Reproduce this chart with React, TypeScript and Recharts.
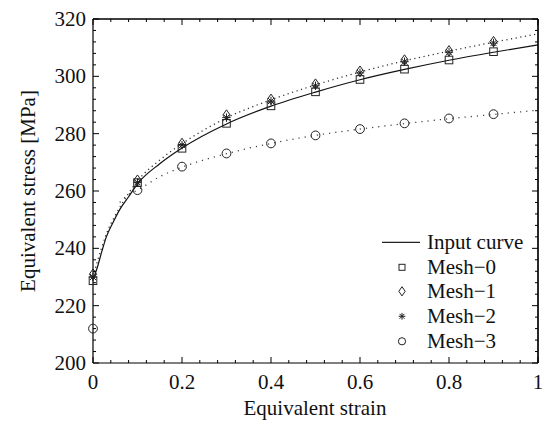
import React from "react";
import {
  ComposedChart,
  Line,
  Scatter,
  XAxis,
  YAxis,
  Legend,
  ReferenceLine,
} from "recharts";

// measured strain points (markers)
const markerStrain = [0, 0.1, 0.2, 0.3, 0.4, 0.5, 0.6, 0.7, 0.8, 0.9];
const mesh0 = [228.7, 262.9, 274.9, 283.6, 289.7, 294.6, 298.9, 302.5, 305.7, 308.6];
const mesh1 = [231.0, 263.8, 276.6, 286.5, 292.0, 297.3, 301.8, 305.7, 308.9, 312.1];
const mesh2 = [230.0, 263.0, 276.0, 285.6, 291.4, 296.7, 301.2, 305.1, 308.4, 311.6];
const mesh3 = [212.0, 260.3, 268.5, 273.1, 276.6, 279.4, 281.6, 283.6, 285.3, 286.8];

// input hardening curve
const inputStrain = [0, 0.01, 0.02, 0.03, 0.045, 0.06, 0.08, 0.1, 0.15, 0.2, 0.3, 0.4, 0.5, 0.6, 0.7, 0.8, 0.9, 1.0];
const inputStress = [229, 233.5, 239, 244, 249, 253.5, 258, 262.5, 269.5, 275, 283.4, 289.6, 294.5, 298.8, 302.4, 305.6, 308.4, 311];

// dotted fits
const fitStrain = [0, 0.01, 0.02, 0.03, 0.05, 0.075, 0.1, 0.15, 0.2, 0.3, 0.4, 0.5, 0.6, 0.7, 0.8, 0.9, 1.0];
const mesh1Fit = [230, 235.5, 240.5, 245, 251.5, 258, 263.5, 270.8, 276.5, 285.5, 291.8, 297, 301.5, 305.4, 308.8, 311.9, 314.8];
const mesh3FitStrain = [0.06, 0.08, 0.1, 0.15, 0.2, 0.3, 0.4, 0.5, 0.6, 0.7, 0.8, 0.9, 1.0];
const mesh3Fit = [256, 258.8, 260.3, 265, 268.3, 273, 276.6, 279.4, 281.6, 283.5, 285.2, 286.7, 288.2];

const xMajor = [0, 0.2, 0.4, 0.6, 0.8, 1];
const yMajor = [200, 220, 240, 260, 280, 300, 320];
const xTicks = Array.from({ length: 26 }, (_, i) => Math.round(i * 4) / 100);
const yTicks = Array.from({ length: 31 }, (_, i) => 200 + i * 4);

const FS = 21;

// plot box (chart margins + axis sizes)
const W = 542;
const H = 423;
const BOX = { left: 93, top: 19, right: W - 4, bottom: H - 60 };

const pts = (xs: number[], ys: number[]) => xs.map((x, i) => ({ x, y: ys[i] }));

const isMajorX = (v: number) => xMajor.some((m) => Math.abs(m - v) < 1e-6);
const isMajorY = (v: number) => yMajor.includes(v);
const fmtX = (v: number) => (v === 0 || v === 1 ? String(v) : v.toFixed(1));

const XTick = (props: any) => {
  const { x, y, payload } = props;
  const major = isMajorX(payload.value);
  const len = major ? 6 : 3;
  return (
    <g>
      <line x1={x} x2={x} y1={y} y2={y - len} stroke="#000" strokeWidth={1} />
      {major && (
        <text x={x} y={y + 19} textAnchor="middle" dominantBaseline="central" fontSize={FS} fill="#111">
          {fmtX(payload.value)}
        </text>
      )}
    </g>
  );
};

const YTick = (props: any) => {
  const { x, y, payload } = props;
  const major = isMajorY(payload.value);
  const len = major ? 6 : 3;
  return (
    <g>
      <line x1={x} x2={x + len} y1={y} y2={y} stroke="#000" strokeWidth={1} />
      {major && (
        <text x={x - 7} y={y} textAnchor="end" dominantBaseline="central" fontSize={FS} fill="#111">
          {payload.value}
        </text>
      )}
    </g>
  );
};

// top/right edge of the box with inward ticks
const FrameOverlay = () => {
  const sx = (v: number) => BOX.left + v * (BOX.right - BOX.left);
  const sy = (v: number) => BOX.bottom - ((v - 200) / 120) * (BOX.bottom - BOX.top);
  return (
    <svg width={W} height={H} style={{ position: "absolute", left: 0, top: 0, pointerEvents: "none" }}>
      <line x1={BOX.left} x2={BOX.right} y1={BOX.top} y2={BOX.top} stroke="#000" strokeWidth={1.2} />
      <line x1={BOX.right} x2={BOX.right} y1={BOX.top} y2={BOX.bottom} stroke="#000" strokeWidth={1.2} />
      {xTicks.map((t) => (
        <line key={`t${t}`} x1={sx(t)} x2={sx(t)} y1={BOX.top} y2={BOX.top + (isMajorX(t) ? 6 : 3)} stroke="#000" strokeWidth={1} />
      ))}
      {yTicks.map((t) => (
        <line key={`r${t}`} x1={BOX.right} x2={BOX.right - (isMajorY(t) ? 6 : 3)} y1={sy(t)} y2={sy(t)} stroke="#000" strokeWidth={1} />
      ))}
    </svg>
  );
};

const Square = ({ cx, cy, s = 3.8 }: any) => (
  <rect x={cx - s} y={cy - s} width={s * 2} height={s * 2} fill="none" stroke="#222" strokeWidth={1} />
);
const Diamond = ({ cx, cy, w = 3.6, h = 5.2 }: any) => (
  <polygon points={`${cx},${cy - h} ${cx + w},${cy} ${cx},${cy + h} ${cx - w},${cy}`} fill="none" stroke="#222" strokeWidth={1} />
);
const Asterisk = ({ cx, cy, r = 4.2 }: any) => {
  const d = r * 0.72;
  return (
    <g stroke="#222" strokeWidth={1}>
      <line x1={cx} x2={cx} y1={cy - r} y2={cy + r} />
      <line x1={cx - r} x2={cx + r} y1={cy} y2={cy} />
      <line x1={cx - d} x2={cx + d} y1={cy - d} y2={cy + d} />
      <line x1={cx - d} x2={cx + d} y1={cy + d} y2={cy - d} />
    </g>
  );
};
const Circle = ({ cx, cy, r = 4.4 }: any) => (
  <circle cx={cx} cy={cy} r={r} fill="none" stroke="#222" strokeWidth={1} />
);

const legendItems = [
  { name: "Input curve", kind: "line" },
  { name: "Mesh\u22120", kind: "square" },
  { name: "Mesh\u22121", kind: "diamond" },
  { name: "Mesh\u22122", kind: "asterisk" },
  { name: "Mesh\u22123", kind: "circle" },
];

const LegendBox = () => (
  <div style={{ fontSize: FS, color: "#111" }}>
    {legendItems.map((it) => (
      <div key={it.name} style={{ display: "flex", alignItems: "center", height: 24.7 }}>
        <svg width={49} height={24.7} style={{ display: "block" }}>
          {it.kind === "line" && <line x1={4} x2={42} y1={12.3} y2={12.3} stroke="#222" strokeWidth={1.2} />}
          {it.kind === "square" && <Square cx={24} cy={12.3} s={3} />}
          {it.kind === "diamond" && <Diamond cx={24} cy={12.3} w={3.2} h={4.6} />}
          {it.kind === "asterisk" && <Asterisk cx={24} cy={12.3} r={3.4} />}
          {it.kind === "circle" && <Circle cx={24} cy={12.3} r={3.6} />}
        </svg>
        <span style={{ lineHeight: "24.7px", whiteSpace: "nowrap" }}>{it.name}</span>
      </div>
    ))}
  </div>
);

export default function App() {
  return (
    <div style={{ position: "absolute", left: 0, top: 0, width: W, height: H, background: "#fff" }}>
      <ComposedChart width={W} height={H} margin={{ top: 19, right: 4, bottom: 0, left: 0 }}>
        <XAxis
          dataKey="x"
          type="number"
          domain={[0, 1]}
          ticks={xTicks}
          interval={0}
          height={60}
          tickSize={0}
          tickMargin={0}
          tickLine={false}
          axisLine={{ stroke: "#000", strokeWidth: 1.2 }}
          tick={<XTick />}
        />
        <YAxis
          type="number"
          domain={[200, 320]}
          ticks={yTicks}
          interval={0}
          width={93}
          tickSize={0}
          tickMargin={0}
          tickLine={false}
          axisLine={{ stroke: "#000", strokeWidth: 1.2 }}
          tick={<YTick />}
        />
        <ReferenceLine y={320} stroke="#000" strokeWidth={1.2} />
        <ReferenceLine x={1} stroke="#000" strokeWidth={1.2} />
        <Line
          data={pts(fitStrain, mesh1Fit)}
          dataKey="y"
          type="monotone"
          stroke="#333"
          strokeWidth={1.3}
          strokeDasharray="1.2 3.5"
          dot={false}
          isAnimationActive={false}
          legendType="none"
        />
        <Line
          data={pts(mesh3FitStrain, mesh3Fit)}
          dataKey="y"
          type="monotone"
          stroke="#444"
          strokeWidth={1.3}
          strokeDasharray="1.2 5"
          dot={false}
          isAnimationActive={false}
          legendType="none"
        />
        <Line
          data={pts(inputStrain, inputStress)}
          dataKey="y"
          name="Input curve"
          type="monotone"
          stroke="#111"
          strokeWidth={1.2}
          dot={false}
          isAnimationActive={false}
        />
        <Scatter name="Mesh-0" data={pts(markerStrain, mesh0)} dataKey="y" shape={(p: any) => <Square cx={p.cx} cy={p.cy} />} isAnimationActive={false} />
        <Scatter name="Mesh-1" data={pts(markerStrain, mesh1)} dataKey="y" shape={(p: any) => <Diamond cx={p.cx} cy={p.cy} />} isAnimationActive={false} />
        <Scatter name="Mesh-2" data={pts(markerStrain, mesh2)} dataKey="y" shape={(p: any) => <Asterisk cx={p.cx} cy={p.cy} />} isAnimationActive={false} />
        <Scatter name="Mesh-3" data={pts(markerStrain, mesh3)} dataKey="y" shape={(p: any) => <Circle cx={p.cx} cy={p.cy} />} isAnimationActive={false} />
        <Legend
          layout="vertical"
          align="center"
          verticalAlign="middle"
          content={() => <LegendBox />}
          wrapperStyle={{ position: "absolute", left: 378, top: 230, width: 160, height: 125 }}
        />
        <text x={28} y={191} transform="rotate(-90 28 191)" textAnchor="middle" dominantBaseline="central" fontSize={FS} fill="#111">
          Equivalent stress [MPa]
        </text>
        <text x={315} y={408} textAnchor="middle" dominantBaseline="central" fontSize={FS} fill="#111">
          Equivalent strain
        </text>
      </ComposedChart>
      <FrameOverlay />
    </div>
  );
}
